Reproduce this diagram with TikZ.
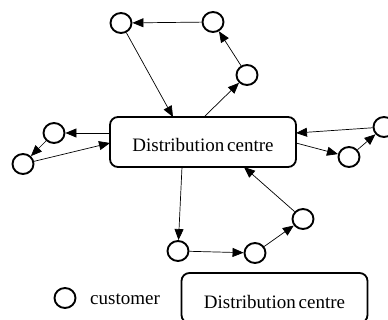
\documentclass[tikz,border=0pt]{standalone}
\usepackage{fontspec}
\setmainfont{Liberation Serif}
\usetikzlibrary{arrows.meta,shapes.geometric}
\begin{document}
\begin{tikzpicture}[x=1pt,y=-1pt,
 cust/.style={draw, ellipse, line width=1.9pt, minimum width=21pt, minimum height=20pt, inner sep=0pt},
 dc/.style={draw, rounded corners=8pt, line width=1.8pt, minimum width=186pt, minimum height=50pt, inner sep=0pt, font=\fontsize{19}{22}\selectfont, text height=20pt, text depth=0pt},
 link/.style={line width=0.7pt, -{Triangle[length=11pt,width=9pt]}},
 lbl/.style={font=\fontsize{19}{22}\selectfont, inner sep=0pt}
]
\useasboundingbox (0,0) rectangle (388,320);
\node[dc] (box) at (203,142) {Distribution\hspace{0.15em}centre};
% customers
\node[cust] (c1) at (121,23) {};
\node[cust] (c2) at (213,22) {};
\node[cust] (c3) at (247,75) {};
\node[cust] (c4) at (54,133) {};
\node[cust] (c5) at (23,164) {};
\node[cust] (c6) at (384,127) {};
\node[cust] (c7) at (349,157) {};
\node[cust] (c8) at (178,251) {};
\node[cust] (c9) at (255,253) {};
\node[cust] (c10) at (303,219) {};
% points on the box
\coordinate (b1) at (173,117);
\coordinate (b2) at (204,117);
\coordinate (b3) at (110,133);
\coordinate (b4) at (110,143);
\coordinate (b5) at (296,133);
\coordinate (b6) at (296,143);
\coordinate (b7) at (182,167);
\coordinate (b8) at (244,167);
% connectors
\draw[link] (c1) -- (b1);
\draw[link] (b2) -- (c3);
\draw[link] (c3) -- (c2);
\draw[link] (c2) -- (c1);
\draw[link] (b3) -- (c4);
\draw[link] (c4) -- (c5);
\draw[link] (c5) -- (b4);
\draw[link] (c6) -- (b5);
\draw[link] (b6) -- (c7);
\draw[link] (c7) -- (c6);
\draw[link] (b7) -- (c8);
\draw[link] (c8) -- (c9);
\draw[link] (c9) -- (c10);
\draw[link] (c10) -- (b8);
% legend
\node[cust] (lc) at (65,298) {};
\node[lbl, anchor=base west] (lt) at (90,305) {customer};
\node[dc] (lbox) at (274.5,298) {Distribution\hspace{0.15em}centre};
\end{tikzpicture}
\end{document}
